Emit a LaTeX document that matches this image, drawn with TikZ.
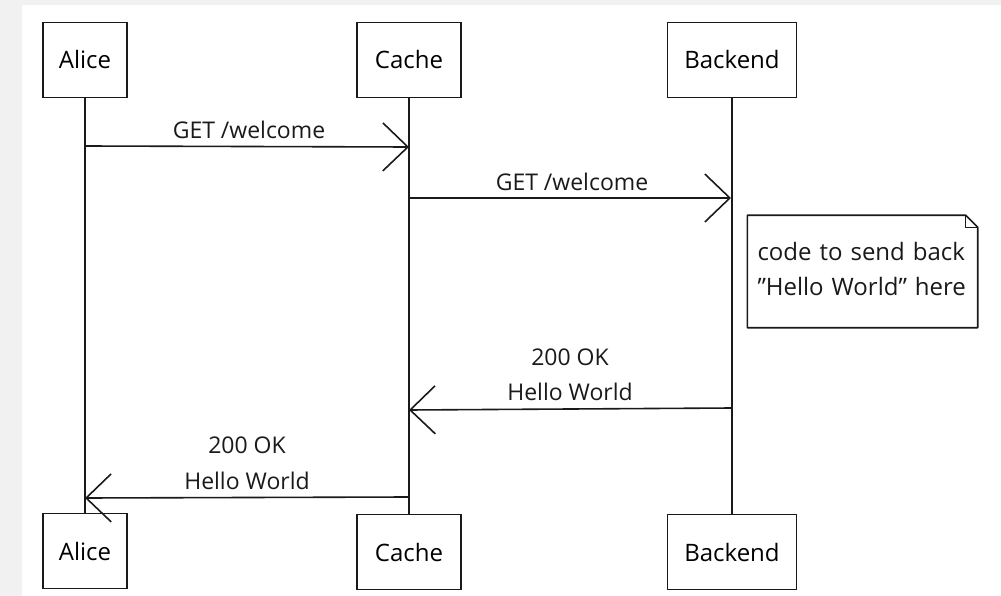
\documentclass[tikz,border=0pt]{standalone}
\usepackage{fontspec}
\setmainfont{Open Sans}
\usetikzlibrary{arrows.meta}
\definecolor{frame}{HTML}{F1F1F1}
\definecolor{ink}{HTML}{1A1A1A}
\begin{document}
\begin{tikzpicture}[x=1pt,y=-1pt,
  actor/.style={draw=ink, line width=1.9pt, minimum height=75pt, inner sep=0pt,
    font=\fontsize{24}{28}\selectfont},
  lifeline/.style={draw=ink, line width=1.3pt},
  msg/.style={draw=ink, line width=1.6pt,
    -{Straight Barb[length=25pt, width=48pt, line width=1.6pt]}},
  lbl/.style={font=\fontsize{23}{26}\selectfont, inner sep=0pt, text=ink},
  notetext/.style={font=\fontsize{24}{35}\selectfont, align=left, text=ink,
    minimum width=230pt, minimum height=112pt, inner sep=0pt, text width=210pt}
]
\useasboundingbox (0,0) rectangle (1001,596);
% page backdrop
\fill[frame] (0,0) rectangle (1001,596);
\fill[white] (22,5) rectangle (1001,596);

% participants, top row
\node[actor, minimum width=84pt]  (aliceT)   at (85,60)  {Alice};
\node[actor, minimum width=104pt] (cacheT)   at (409,60) {Cache};
\node[actor, minimum width=129pt] (backendT) at (732,60) {Backend};
% participants, bottom row
\node[actor, minimum width=84pt]  (aliceB)   at (85,551)  {Alice};
\node[actor, minimum width=104pt] (cacheB)   at (409,552) {Cache};
\node[actor, minimum width=129pt] (backendB) at (732,552) {Backend};

% lifelines
\draw[lifeline] (aliceT.south) -- (aliceB.north);
\draw[lifeline] (cacheT.south) -- (cacheB.north);
\draw[lifeline] (backendT.south) -- (backendB.north);

% message end points on the lifelines
\coordinate (a1) at (85,146);   \coordinate (c1) at (409,147);
\coordinate (c2) at (409,198);  \coordinate (b2) at (731,198);
\coordinate (b3) at (732,408);  \coordinate (c3) at (409,410);
\coordinate (c4) at (409,497);  \coordinate (a4) at (85,498);

% messages
\draw[msg] (a1) -- (c1);
\node[lbl] (l1) at (249,130) {GET /welcome};

\draw[msg] (c2) -- (b2);
\node[lbl] (l2) at (572,182) {GET /welcome};

\draw[msg] (b3) -- (c3);
\node[lbl] (l3a) at (570,357) {200 OK};
\node[lbl] (l3b) at (570,392) {Hello World};

\draw[msg] (c4) -- (a4);
\node[lbl] (l4a) at (247,445) {200 OK};
\node[lbl] (l4b) at (247,481) {Hello World};

% note with folded corner (outline sits 2.5pt below the text block)
\node[notetext] (note) at (862.5,269) {code to send back\\"Hello World" here};
\draw[ink, line width=1.6pt, line join=round]
  ([yshift=-2.5pt]note.north west) -- ([xshift=-12pt,yshift=-2.5pt]note.north east)
  -- ([yshift=-14.5pt]note.north east) -- ([yshift=-2.5pt]note.south east)
  -- ([yshift=-2.5pt]note.south west) -- cycle;
\draw[ink, line width=1.2pt, line join=round]
  ([xshift=-12pt,yshift=-2.5pt]note.north east) -- ([xshift=-12pt,yshift=-14.5pt]note.north east)
  -- ([yshift=-14.5pt]note.north east);
\end{tikzpicture}
\end{document}
